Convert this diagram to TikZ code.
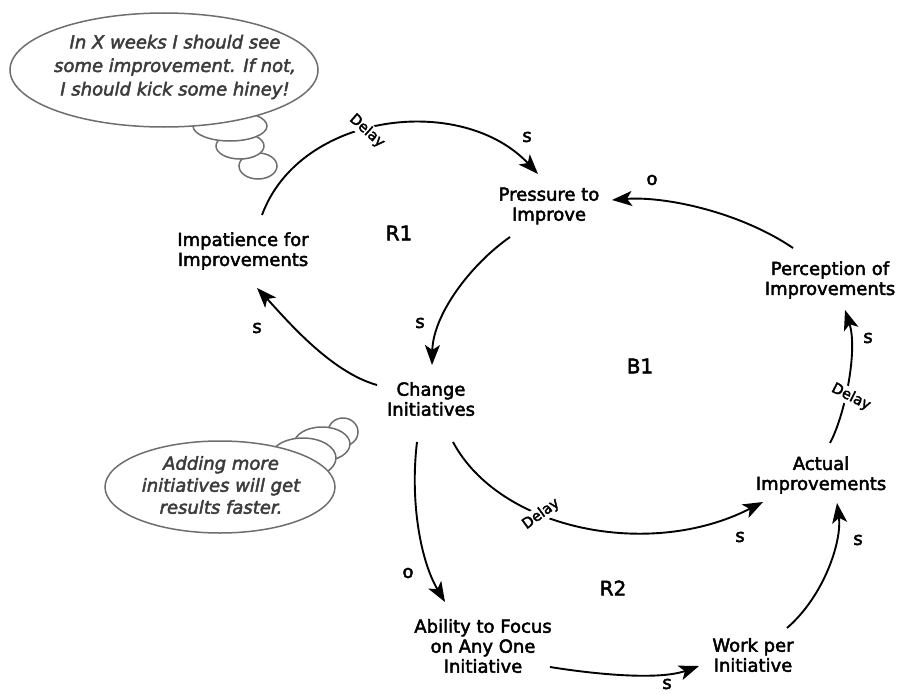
\documentclass[tikz,border=0pt]{standalone}
\usepackage{fontspec}
\setmainfont{DejaVu Sans}[UprightFeatures={FakeBold=2.5}, ItalicFeatures={FakeBold=2.5}]
\usetikzlibrary{arrows.meta}
\definecolor{bubblegray}{HTML}{6E6E6E}
\definecolor{thoughtgray}{HTML}{3C3C3C}

\begin{document}
\begin{tikzpicture}[x=1pt,y=-1pt,
  every node/.style={inner sep=0pt, align=center},
  var/.style={font=\fontsize{18}{20}\selectfont},
  pol/.style={font=\fontsize{18}{20}\selectfont},
  loopname/.style={font=\fontsize{20}{22}\selectfont},
  delaytag/.style={font=\fontsize{14.5}{15}\selectfont, fill=white, inner sep=1.5pt},
  link/.style={line width=1.9pt, -{Stealth[length=20pt,width=15pt,inset=5pt]}},
  cloud/.style={draw=bubblegray, line width=1.5pt, fill=white},
  thought/.style={font=\itshape\fontsize{18}{23.5}\selectfont, text=thoughtgray},
]
\useasboundingbox (0,0) rectangle (899,693);

% thought bubble, upper left
\draw[cloud] (258,166) ellipse [x radius=19, y radius=13];
\draw[cloud] (240,146) ellipse [x radius=24, y radius=13];
\draw[cloud] (230,126) ellipse [x radius=37, y radius=15];
\draw[cloud] (164,70) ellipse [x radius=154, y radius=57];
\node[thought] (think1) at (175,67) {In X weeks I should see\\some improvement. If not,\\I should kick some hiney!};

% thought bubble, lower left
\draw[cloud] (343,432) ellipse [x radius=15, y radius=14];
\draw[cloud] (322,444) ellipse [x radius=28, y radius=17];
\draw[cloud] (303,458) ellipse [x radius=33, y radius=20];
\draw[cloud] (220,487) ellipse [x radius=115, y radius=46];
\node[thought, font=\itshape\fontsize{18}{22}\selectfont] (think2) at (221,485) {Adding more\\initiatives will get\\results faster.};

% variables
\node[var] (imp)     at (243,251) {Impatience for\\Improvements};
\node[var] (press)   at (549,206) {Pressure to\\Improve};
\node[var] (perc)    at (830,280) {Perception of\\Improvements};
\node[var] (change)  at (431,399) {Change\\Initiatives};
\node[var] (actual)  at (821,475) {Actual\\Improvements};
\node[var] (ability) at (483,646) {Ability to Focus\\on Any One\\Initiative};
\node[var] (work)    at (753,655) {Work per\\Initiative};

% loop names
\node[loopname] (r1) at (399,233) {R1};
\node[loopname] (b1) at (640,366) {B1};
\node[loopname] (r2) at (613,588) {R2};

% causal links
\draw[link] ([shift={(19,-36)}]imp.center) .. controls (300,112) and (462,93) .. ([shift={(-11,-32)}]press.center);
\draw[link] ([shift={(-39,31)}]press.center) .. controls (470,265) and (433,315) .. ([shift={(1,-34)}]change.center);
\draw[link] ([shift={(-54,-14)}]change.center) .. controls (330,372) and (285,318) .. ([shift={(14,37)}]imp.center);
\draw[link] ([shift={(-37,-32)}]perc.center) .. controls (740,212) and (665,196) .. ([shift={(63,-6)}]press.center);
\draw[link] ([shift={(9,-32)}]actual.center) .. controls (845,415) and (858,350) .. ([shift={(15,30)}]perc.center);
\draw[link] ([shift={(22,43)}]change.center) .. controls (500,530) and (650,560) .. ([shift={(-58,27)}]actual.center);
\draw[link] ([shift={(-14,43)}]change.center) .. controls (410,500) and (420,560) .. ([shift={(-38,-44)}]ability.center);
\draw[link] ([shift={(67,21)}]ability.center) .. controls (600,675) and (660,680) .. ([shift={(-54,11)}]work.center);
\draw[link] ([shift={(34,-27)}]work.center) .. controls (825,595) and (842,540) .. ([shift={(16,28)}]actual.center);

% delay marks
\node[delaytag, rotate=-42] (d1) at (367,131) {Delay};
\node[delaytag, rotate=-27] (d2) at (851,397) {Delay};
\node[delaytag, rotate=36]  (d3) at (541,514) {Delay};

% polarities
\node[pol] (p1) at (527,137) {s};
\node[pol] (p2) at (420,323) {s};
\node[pol] (p3) at (257,328) {s};
\node[pol] (p4) at (652,180) {o};
\node[pol] (p5) at (868,338) {s};
\node[pol] (p6) at (740,537) {s};
\node[pol] (p7) at (408,573) {o};
\node[pol] (p8) at (667,684) {s};
\node[pol] (p9) at (858,540) {s};
\end{tikzpicture}
\end{document}
